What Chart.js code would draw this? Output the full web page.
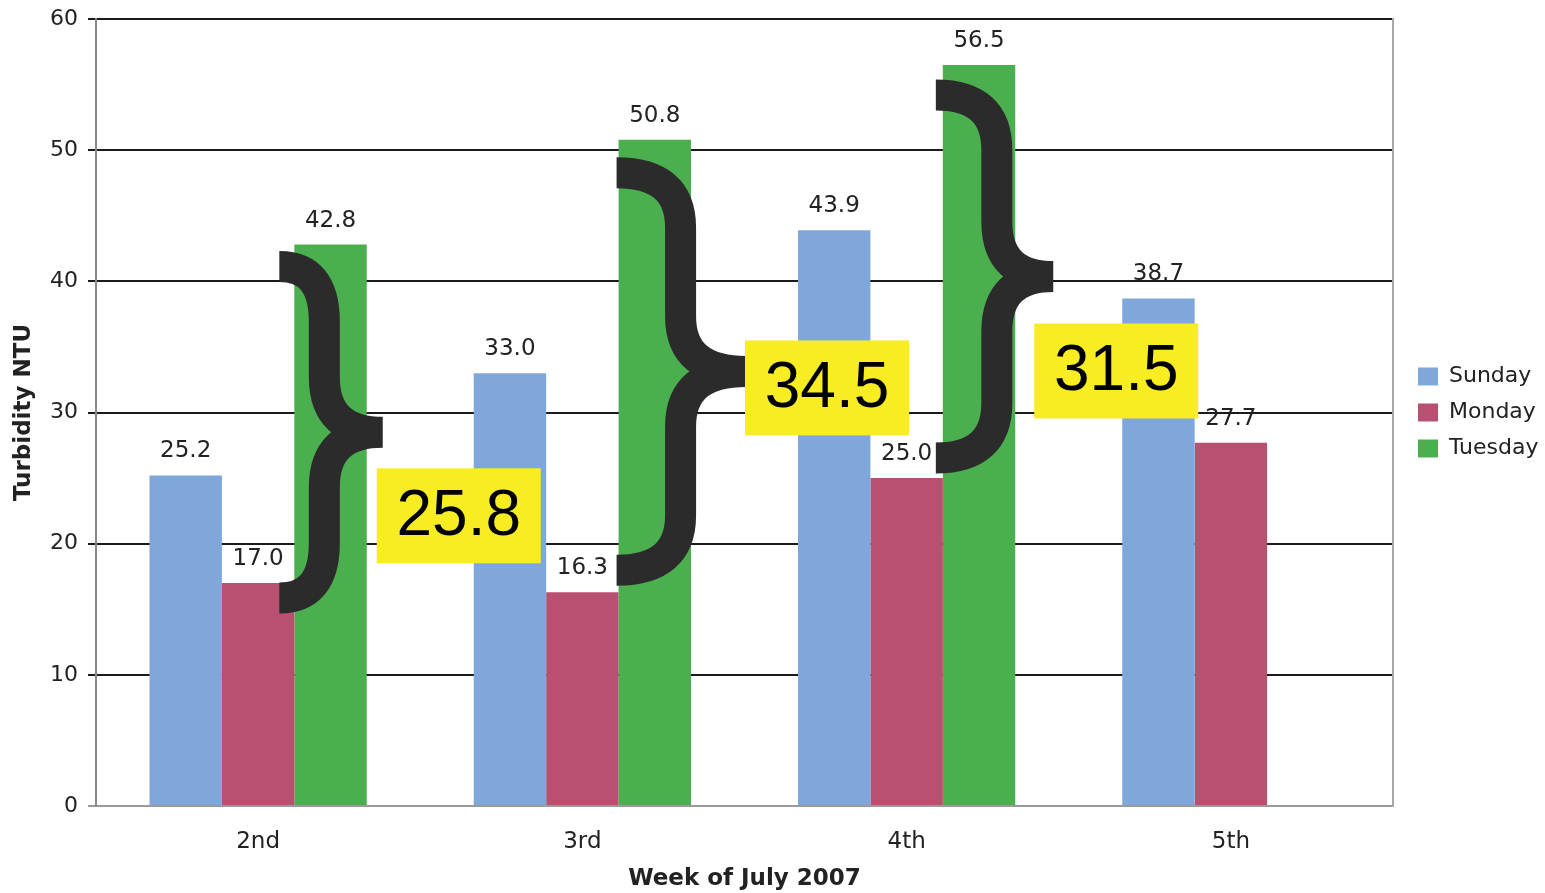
<!DOCTYPE html>
<html>
<head>
<meta charset="utf-8">
<script src="https://cdn.jsdelivr.net/npm/chart.js@4.4.0/dist/chart.umd.min.js"></script>
<style>
  html, body { margin: 0; padding: 0; background: #fff; }
  #wrap { width: 1545px; height: 893px; }
</style>
</head>
<body>
<div id="wrap"><canvas id="turbChart" width="1545" height="893"></canvas></div>
<script>
const weeks = ["2nd", "3rd", "4th", "5th"];
const sunday = [25.2, 33.0, 43.9, 38.7];
const monday = [17.0, 16.3, 25.0, 27.7];
const tuesday = [42.8, 50.8, 56.5, null];
const yTicks = [0, 10, 20, 30, 40, 50, 60];
// weeks that get a Monday -> Tuesday brace (difference shown in the yellow box)
const braceWeeks = [0, 1, 2];

// hand placed look of each brace, offsets in px from the bars
const braceLayout = [
    { left: -15, spine: 30, tip: 16, top: 22, bottom: 15, boxDx: 76, boxDy: 83 },
    { left: -2, spine: 62, tip: 55, top: 33, bottom: -22, boxDx: 81, boxDy: 16 },
    { left: -7, spine: 54, tip: 38, top: 30, bottom: -20, boxDx: 63, boxDy: 94 },
];

const FONT = "'DejaVu Sans', Verdana, sans-serif";

const valueLabels = {
    id: "valueLabels",
    afterDatasetsDraw(chart) {
        const ctx = chart.ctx;
        ctx.save();
        ctx.font = "23px " + FONT;
        ctx.fillStyle = "#222";
        ctx.textAlign = "center";
        ctx.textBaseline = "alphabetic";
        chart.data.datasets.forEach((ds, i) => {
            chart.getDatasetMeta(i).data.forEach((bar, j) => {
                const v = ds.data[j];
                if (v === null || v === undefined) return;
                ctx.fillText(v.toFixed(1), bar.x, bar.y - 18);
            });
        });
        ctx.restore();
    },
};

function drawBrace(ctx, xl, xs, xt, yt, yb, r) {
    const ym = (yt + yb) / 2;
    ctx.beginPath();
    ctx.moveTo(xl, yt);
    ctx.quadraticCurveTo(xs, yt, xs, yt + r);
    ctx.lineTo(xs, ym - r);
    ctx.quadraticCurveTo(xs, ym, xt, ym);
    ctx.quadraticCurveTo(xs, ym, xs, ym + r);
    ctx.lineTo(xs, yb - r);
    ctx.quadraticCurveTo(xs, yb, xl, yb);
    ctx.stroke();
}

const braces = {
    id: "braces",
    afterDraw(chart) {
        const ctx = chart.ctx;
        const monMeta = chart.getDatasetMeta(1);
        const tueMeta = chart.getDatasetMeta(2);
        ctx.save();
        braceWeeks.forEach((w, k) => {
            const L = braceLayout[k];
            const tue = tueMeta.data[w];
            const mon = monMeta.data[w];
            const bl = tue.x - tue.width / 2;
            const br = tue.x + tue.width / 2;
            const xl = bl + L.left;
            const xs = bl + L.spine;
            const xt = br + L.tip;
            const yt = tue.y + L.top;
            const yb = mon.y + L.bottom;
            const ym = (yt + yb) / 2;

            ctx.strokeStyle = "#2b2b2b";
            ctx.lineWidth = 31;
            ctx.lineCap = "butt";
            ctx.lineJoin = "bevel";
            drawBrace(ctx, xl, xs, xt, yt, yb, 55);

            const diff = (tuesday[w] - monday[w]).toFixed(1);
            const cx = xt + L.boxDx;
            const cy = ym + L.boxDy;
            ctx.fillStyle = "#f8ec22";
            ctx.fillRect(cx - 82, cy - 47, 164, 95);
            ctx.fillStyle = "#000";
            ctx.font = "64px 'Liberation Sans', Arial, sans-serif";
            ctx.textAlign = "center";
            ctx.textBaseline = "middle";
            ctx.fillText(diff, cx, cy + 2);
        });
        ctx.restore();
    },
};

const ctx = document.getElementById("turbChart").getContext("2d");
const turbChart = new Chart(ctx, {
    type: "bar",
    data: {
        labels: weeks,
        datasets: [
            { label: "Sunday", data: sunday, backgroundColor: "#80a7da", borderWidth: 0 },
            { label: "Monday", data: monday, backgroundColor: "#b8506f", borderWidth: 0 },
            { label: "Tuesday", data: tuesday, backgroundColor: "#4bae4f", borderWidth: 0 },
        ],
    },
    plugins: [valueLabels, braces],
    options: {
        responsive: false,
        animation: false,
        devicePixelRatio: 1,
        layout: { padding: { top: 19, left: 0, right: 0, bottom: 0 } },
        datasets: {
            bar: { categoryPercentage: 0.67, barPercentage: 1.0 },
        },
        plugins: {
            tooltip: { enabled: false },
            legend: {
                position: "right",
                fullSize: false,
                maxWidth: 141,
                labels: {
                    boxWidth: 20,
                    boxHeight: 18,
                    padding: 14,
                    color: "#222",
                    font: { family: FONT, size: 22 },
                },
            },
        },
        scales: {
            x: {
                grid: { display: false },
                border: { color: "#9a9a9a", width: 2 },
                ticks: { color: "#222", padding: 14, font: { family: FONT, size: 23 } },
                title: {
                    display: true,
                    text: "Week of July 2007",
                    color: "#222",
                    font: { family: FONT, size: 23, weight: "bold" },
                    padding: { top: 0, bottom: 0 },
                },
                afterFit(scale) { scale.height = 87; },
            },
            y: {
                min: 0,
                max: 60,
                afterBuildTicks(scale) { scale.ticks = yTicks.map((v) => ({ value: v })); },
                ticks: { color: "#222", padding: 10, font: { family: FONT, size: 22, lineHeight: 1 } },
                grid: {
                    color: (c) => (c.tick && c.tick.value === 0 ? "#9a9a9a" : "#1a1a1a"),
                    lineWidth: 2,
                    tickLength: 8,
                },
                border: { color: "#8a8a8a", width: 2 },
                title: {
                    display: true,
                    text: "Turbidity NTU",
                    color: "#222",
                    font: { family: FONT, size: 23, weight: "bold" },
                    padding: { top: 10, bottom: 0 },
                },
                afterFit(scale) {
                    scale.width = 96;
                    scale.paddingTop = 0;
                    scale.paddingBottom = 0;
                },
            },
            y2: {
                position: "right",
                min: 0,
                max: 60,
                grid: { display: false },
                ticks: { display: false },
                border: { color: "#a8a8a8", width: 2 },
                afterFit(scale) { scale.width = 11; },
            },
        },
    },
});
</script>
</body>
</html>
